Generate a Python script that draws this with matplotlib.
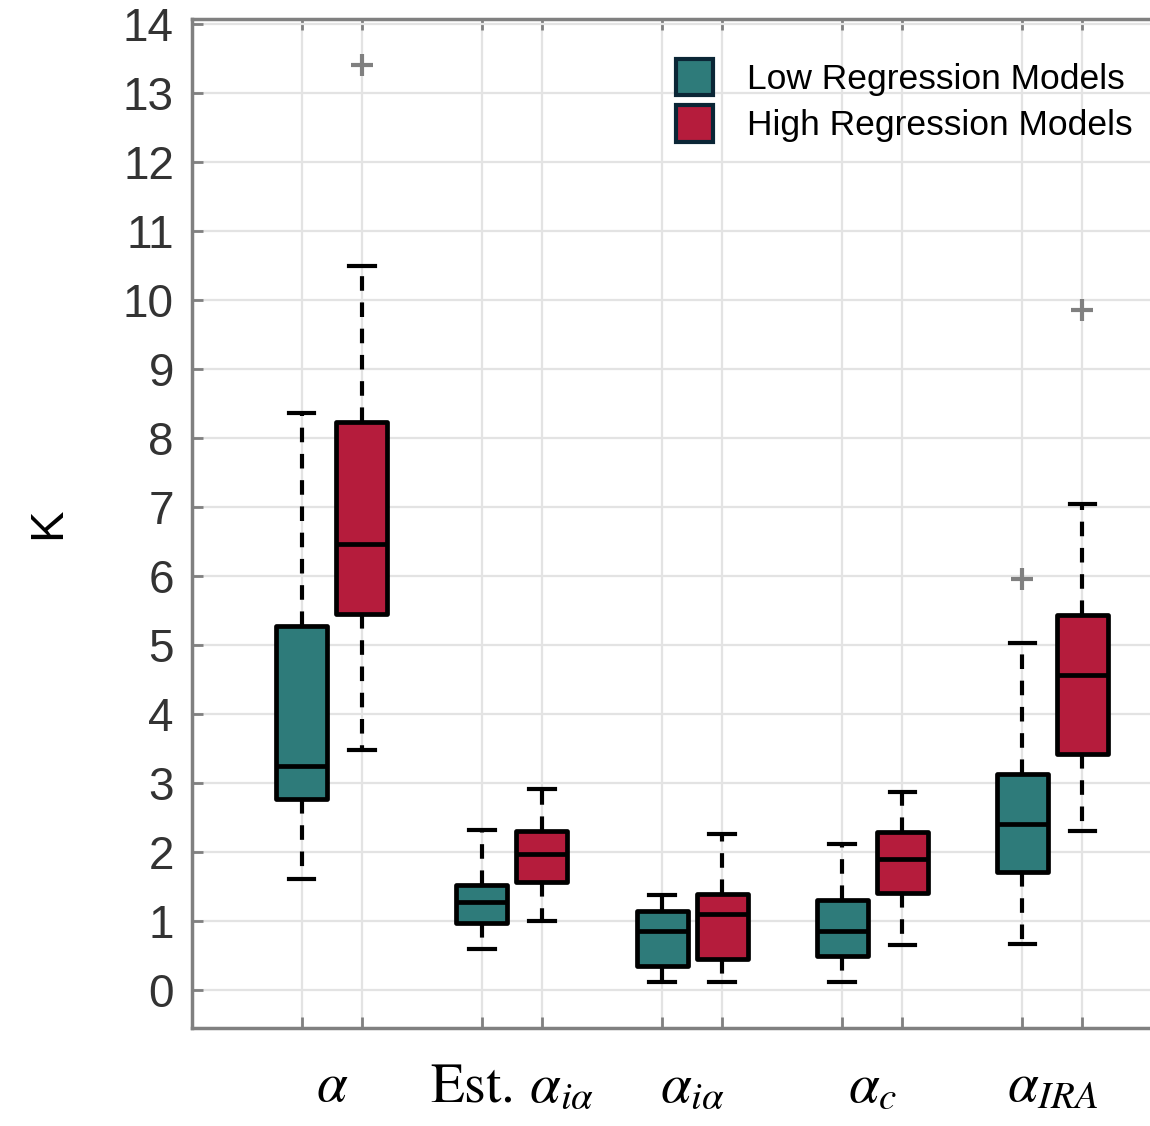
import matplotlib.pyplot as plt
from matplotlib.patches import Patch

# Datos (bigote inf, Q1, mediana, Q3, bigote sup, atípicos)
grupos = [r'$\alpha$', r'$\mathrm{Est.}\,\alpha_{i\alpha}$', r'$\alpha_{i\alpha}$', r'$\alpha_c$', r'$\alpha_{IRA}$']

low_whislo = [1.61, 0.59, 0.12, 0.12, 0.67]
low_q1 = [2.77, 0.97, 0.35, 0.49, 1.71]
low_med = [3.25, 1.28, 0.86, 0.86, 2.41]
low_q3 = [5.28, 1.52, 1.14, 1.30, 3.13]
low_whishi = [8.36, 2.32, 1.38, 2.12, 5.03]
low_fliers = [[], [], [], [], [5.96]]

high_whislo = [3.48, 1.00, 0.12, 0.65, 2.30]
high_q1 = [5.45, 1.57, 0.45, 1.41, 3.42]
high_med = [6.46, 1.97, 1.10, 1.90, 4.57]
high_q3 = [8.23, 2.30, 1.39, 2.29, 5.43]
high_whishi = [10.50, 2.91, 2.26, 2.87, 7.04]
high_fliers = [[13.40], [], [], [], [9.86]]

c_low = '#2e7b7a'
c_high = '#b51c3c'


def stats(wl, q1, med, q3, wh, fl):
    return [dict(whislo=a, q1=b, med=c, q3=d, whishi=e, fliers=f)
            for a, b, c, d, e, f in zip(wl, q1, med, q3, wh, fl)]


st_low = stats(low_whislo, low_q1, low_med, low_q3, low_whishi, low_fliers)
st_high = stats(high_whislo, high_q1, high_med, high_q3, high_whishi, high_fliers)

pos_low = [1 + 3 * i for i in range(len(grupos))]
pos_high = [p + 1 for p in pos_low]

plt.rcParams['mathtext.fontset'] = 'stix'

fig = plt.figure(figsize=(11.5, 11.26), dpi=100)
ax = fig.add_axes([0.167, 0.087, 0.833, 0.896])

estilo = dict(
    widths=0.85, capwidths=0.42, patch_artist=True, manage_ticks=False,
    boxprops=dict(edgecolor='black', linewidth=3.4, joinstyle='round'),
    medianprops=dict(color='black', linewidth=3.4),
    whiskerprops=dict(color='black', linewidth=3, linestyle=(0, (3.5, 2.8))),
    capprops=dict(color='black', linewidth=3),
    flierprops=dict(marker='+', markeredgecolor='#808080', markersize=16, markeredgewidth=3),
)

b1 = ax.bxp(st_low, positions=pos_low, **estilo)
b2 = ax.bxp(st_high, positions=pos_high, **estilo)
for p in b1['boxes']:
    p.set_facecolor(c_low)
for p in b2['boxes']:
    p.set_facecolor(c_high)

ax.set_xlim(-0.83, 15.13)
ax.set_ylim(-0.55, 14.07)
ax.set_yticks(range(0, 15))
ax.set_xticks(pos_low + pos_high)
ax.set_xticklabels([])
ax.tick_params(axis='both', direction='in', length=8, width=2, color='#808080',
               top=True, labelsize=33, labelcolor='#333333', pad=13)
for lbl in ax.get_yticklabels():
    lbl.set_fontfamily('Liberation Sans')

ax.grid(True, color='#e3e3e3', linewidth=1.6)
ax.set_axisbelow(True)
for s in ['left', 'bottom', 'top']:
    ax.spines[s].set_color('#808080')
    ax.spines[s].set_linewidth(2.5)
ax.spines['right'].set_visible(False)

for i, g in enumerate(grupos):
    ax.text(pos_low[i] + 0.5, -1.0, g, ha='center', va='top', fontsize=40,
            transform=ax.transData)

ax.set_ylabel('K', fontsize=34, family='Liberation Sans', labelpad=38)

handles = [Patch(facecolor=c_low, edgecolor='#0b2636', linewidth=3, label='Low Regression Models'),
           Patch(facecolor=c_high, edgecolor='#0b2636', linewidth=3, label='High Regression Models')]
ax.legend(handles=handles, loc='upper right', bbox_to_anchor=(1.0, 0.978), frameon=False,
          prop=dict(family='Liberation Sans', size=25.5), handlelength=1.05, handleheight=1.2,
          handletextpad=0.95, labelspacing=0.26, borderaxespad=0.1)

plt.savefig('out.png', dpi=100)
